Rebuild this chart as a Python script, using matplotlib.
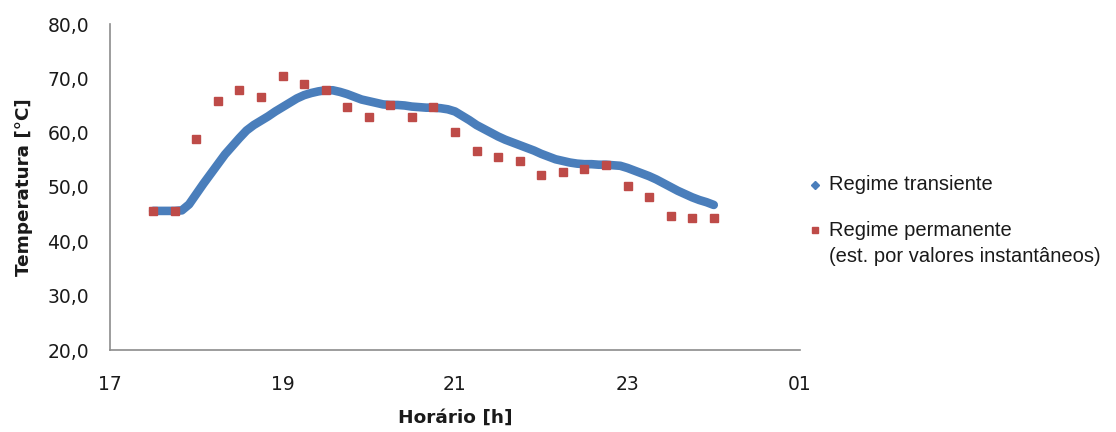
import numpy as np
import matplotlib
matplotlib.use("Agg")
import matplotlib.pyplot as plt
from matplotlib.lines import Line2D
from matplotlib.ticker import FuncFormatter

# Transient regime: temperature sampled every 5 minutes from 17:30 to 24:00
transient_start_h = 17.5
transient_step_min = 5
transient_temp = [
    45.6, 45.6, 45.6, 45.6, 45.7, 46.8, 48.7, 50.6, 52.4, 54.2,
    56.0, 57.5, 59.0, 60.4, 61.4, 62.2, 63.0, 63.9, 64.7, 65.5,
    66.3, 66.9, 67.3, 67.6, 67.8, 67.8, 67.5, 67.1, 66.6, 66.1,
    65.8, 65.5, 65.2, 65.1, 65.1, 65.0, 64.8, 64.7, 64.6, 64.6,
    64.5, 64.3, 63.9, 63.1, 62.3, 61.4, 60.7, 60.0, 59.3, 58.7,
    58.2, 57.7, 57.2, 56.7, 56.1, 55.6, 55.1, 54.8, 54.5, 54.3,
    54.2, 54.2, 54.1, 54.1, 54.0, 53.9, 53.5, 53.0, 52.5, 52.0,
    51.4, 50.7, 50.0, 49.3, 48.7, 48.1, 47.6, 47.2, 46.7,
]

# Steady-state regime (estimated from instantaneous values), every 15 minutes
steady_start_h = 17.5
steady_step_min = 15
steady_temp = [
    45.6, 45.6, 58.8, 65.8, 67.9, 66.5, 70.4, 69.0, 67.9, 64.7,
    62.9, 65.1, 62.9, 64.7, 60.1, 56.6, 55.5, 54.8, 52.3, 52.7,
    53.4, 54.1, 50.2, 48.2, 44.6, 44.3, 44.3,
]

x_ticks = [17, 19, 21, 23, 25]
x_tick_labels = ["17", "19", "21", "23", "01"]
y_ticks = [20, 30, 40, 50, 60, 70, 80]

label_transient = "Regime transiente"
label_steady = ["Regime permanente", "(est. por valores instantâneos)"]

transient_time = transient_start_h + np.arange(len(transient_temp)) * transient_step_min / 60
steady_time = steady_start_h + np.arange(len(steady_temp)) * steady_step_min / 60

BLUE = "#4A7EBB"
RED = "#BE4B48"
AXIS_GREY = "#8C8C8C"
TEXT = "#1a1a1a"

W, H = 1116, 432
fig = plt.figure(figsize=(W / 100, H / 100), dpi=100)
ax = fig.add_axes([110 / W, 1 - 350 / H, 690 / W, 326 / H])

# transient series: dense samples drawn as a thick band
ax.plot(transient_time, transient_temp, color=BLUE, lw=6.2,
        solid_capstyle="round", solid_joinstyle="round", zorder=2)
ax.plot(steady_time, steady_temp, ls="none", marker="s", ms=5.6,
        color=RED, mec=RED, zorder=3)

ax.set_xlim(17, 25)
ax.set_ylim(20, 80)
ax.set_xticks(x_ticks)
ax.set_xticklabels(x_tick_labels)
ax.set_yticks(y_ticks)
ax.yaxis.set_major_formatter(FuncFormatter(lambda v, p: f"{v:.1f}".replace(".", ",")))

for side in ("top", "right"):
    ax.spines[side].set_visible(False)
for side in ("left", "bottom"):
    ax.spines[side].set_color(AXIS_GREY)
    ax.spines[side].set_linewidth(1.2)

ax.tick_params(axis="both", length=0, labelsize=13.5, colors=TEXT)
ax.tick_params(axis="y", pad=15)
ax.tick_params(axis="x", pad=18)

ax.set_ylabel("Temperatura [°C]", fontsize=13.2, fontweight="bold", color=TEXT)
ax.yaxis.set_label_coords(-0.112, 0.5)
ax.set_xlabel("Horário [h]", fontsize=13.3, fontweight="bold", color=TEXT)
ax.xaxis.set_label_coords(0.5, -0.18)

# legend, laid out in figure pixels
def fx(px):
    return px / W

def fy(py):
    return 1 - py / H

legend_font = {"family": "Liberation Sans", "size": 14.5, "color": TEXT}
fig.add_artist(Line2D([fx(815)], [fy(185)], ls="none", marker="D", ms=3.6,
                      color=BLUE, mec=BLUE, transform=fig.transFigure))
fig.text(fx(829), fy(185), label_transient, va="center", ha="left", **legend_font)
fig.add_artist(Line2D([fx(815)], [fy(230)], ls="none", marker="s", ms=4.0,
                      color=RED, mec=RED, transform=fig.transFigure))
fig.text(fx(829), fy(230), label_steady[0], va="center", ha="left", **legend_font)
fig.text(fx(829), fy(257), label_steady[1], va="center", ha="left", **legend_font)

fig.savefig("out.png", dpi=100)
